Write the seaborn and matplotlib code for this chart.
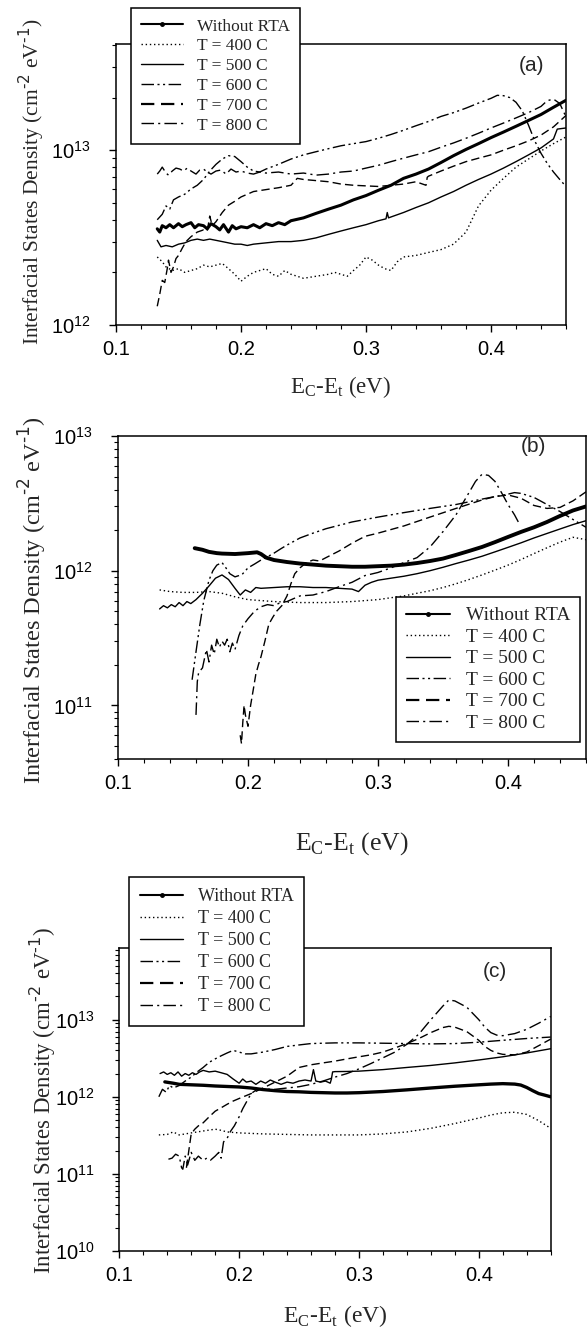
import numpy as np
import matplotlib
matplotlib.use("Agg")
import matplotlib.pyplot as plt
from matplotlib.lines import Line2D
from matplotlib.ticker import MultipleLocator, LogLocator, NullFormatter, FixedLocator
import seaborn as sns

# ---------------- DATA ----------------
series_names = ["Without RTA", "T = 400 C", "T = 500 C", "T = 600 C", "T = 700 C", "T = 800 C"]
xtick_values = [0.1, 0.2, 0.3, 0.4]

# Panel (a)  (y in units of 1e12 cm^-2 eV^-1)
a_norta_x = [0.133,0.135,0.137,0.14,0.143,0.146,0.15,0.153,0.156,0.16,0.163,0.166,0.17,0.173,0.176,0.18,0.183,0.186,0.19,0.193,0.196,0.2,0.205,0.21,0.215,0.22,0.225,0.23,0.235,0.24,0.25,0.26,0.27,0.28,0.29,0.3,0.31,0.32,0.33,0.34,0.35,0.36,0.37,0.38,0.39,0.4,0.41,0.42,0.43,0.44,0.45,0.46]
a_norta_y = [3.55,3.4,3.7,3.6,3.75,3.6,3.8,3.65,3.75,3.85,3.6,3.75,3.7,3.55,3.8,3.65,3.5,3.75,3.4,3.7,3.55,3.65,3.6,3.75,3.6,3.8,3.7,3.85,3.75,3.95,4.1,4.35,4.6,4.85,5.2,5.5,5.9,6.3,6.9,7.3,7.8,8.5,9.3,10.1,10.9,11.8,12.7,13.7,14.8,16.0,17.6,19.3]
a_400_x = [0.133,0.137,0.14,0.145,0.15,0.155,0.16,0.165,0.17,0.175,0.18,0.185,0.19,0.195,0.2,0.205,0.21,0.215,0.22,0.225,0.23,0.235,0.24,0.245,0.25,0.26,0.27,0.275,0.28,0.285,0.29,0.295,0.3,0.305,0.31,0.315,0.32,0.325,0.33,0.34,0.35,0.36,0.37,0.38,0.39,0.4,0.41,0.42,0.43,0.44,0.45,0.46]
a_400_y = [2.45,2.3,2.15,2.05,2.1,2.0,2.05,2.1,2.2,2.15,2.2,2.25,2.1,1.95,1.78,1.9,2.0,2.05,2.1,1.95,1.9,2.05,1.95,1.9,1.85,1.9,1.95,2.0,1.95,1.9,2.05,2.2,2.45,2.35,2.2,2.1,2.05,2.3,2.45,2.5,2.6,2.7,2.9,3.4,4.8,5.9,6.9,8.0,8.9,9.9,10.9,11.9]
a_500_x = [0.133,0.136,0.14,0.145,0.15,0.155,0.16,0.165,0.17,0.175,0.18,0.185,0.19,0.195,0.2,0.205,0.21,0.22,0.23,0.24,0.25,0.26,0.27,0.28,0.29,0.3,0.31,0.316,0.317,0.318,0.32,0.33,0.34,0.35,0.36,0.37,0.38,0.39,0.4,0.41,0.42,0.43,0.44,0.45,0.453,0.46]
a_500_y = [3.05,2.8,2.85,2.8,2.9,2.95,3.05,3.1,3.05,3.1,3.05,3.0,2.95,2.9,2.9,2.85,2.9,2.95,3.0,3.0,3.05,3.15,3.3,3.45,3.6,3.75,3.95,4.05,4.4,4.1,4.15,4.4,4.7,5.0,5.4,5.8,6.3,6.8,7.3,7.9,8.6,9.4,10.3,11.6,13.2,13.4]
a_600_x = [0.133,0.137,0.14,0.143,0.146,0.15,0.155,0.16,0.165,0.17,0.175,0.18,0.185,0.19,0.195,0.2,0.205,0.21,0.215,0.22,0.23,0.24,0.25,0.26,0.27,0.28,0.29,0.3,0.31,0.32,0.33,0.34,0.35,0.36,0.37,0.38,0.39,0.4,0.405,0.41,0.415,0.42,0.425,0.43,0.435,0.44,0.445,0.45,0.455,0.46]
a_600_y = [4.0,4.3,4.8,4.6,5.2,5.4,5.6,6.0,6.3,6.8,7.6,8.3,8.9,9.3,9.2,8.6,8.0,7.6,7.5,7.8,8.3,8.9,9.4,9.8,10.2,10.6,10.9,11.2,11.7,12.3,13.0,13.8,14.6,15.6,16.4,17.4,18.6,19.8,20.6,20.5,20.0,18.8,16.8,13.9,11.3,9.6,8.4,7.5,6.8,6.2]
a_700_x = [0.133,0.135,0.137,0.139,0.141,0.142,0.144,0.146,0.148,0.15,0.153,0.156,0.16,0.165,0.17,0.173,0.175,0.177,0.18,0.185,0.19,0.195,0.2,0.21,0.22,0.23,0.24,0.245,0.25,0.26,0.27,0.28,0.29,0.3,0.31,0.32,0.33,0.34,0.348,0.349,0.35,0.36,0.37,0.38,0.39,0.4,0.41,0.42,0.43,0.44,0.45,0.46]
a_700_y = [1.28,1.5,1.8,1.75,2.1,2.35,2.0,2.15,2.4,2.5,2.75,3.0,3.2,3.4,3.5,3.45,4.2,3.7,3.9,4.4,4.85,5.1,5.4,5.8,5.95,6.1,6.3,6.9,6.8,6.7,6.6,6.4,6.3,6.25,6.2,6.3,6.4,6.6,6.3,7.0,7.1,7.6,8.1,8.6,9.0,9.4,10.0,10.6,11.3,12.2,13.6,15.8]
a_800_x = [0.133,0.135,0.137,0.14,0.142,0.145,0.148,0.151,0.154,0.157,0.16,0.164,0.167,0.17,0.173,0.176,0.18,0.184,0.188,0.192,0.196,0.2,0.205,0.21,0.215,0.22,0.23,0.24,0.25,0.26,0.27,0.28,0.29,0.3,0.31,0.32,0.33,0.34,0.35,0.36,0.37,0.38,0.39,0.4,0.41,0.42,0.43,0.44,0.445,0.45,0.455,0.46]
a_800_y = [7.3,7.6,8.0,7.4,7.2,7.6,7.9,7.8,7.6,7.9,7.6,7.3,7.7,7.8,7.5,7.3,7.6,7.7,7.3,7.8,7.5,7.6,7.4,7.3,7.5,7.4,7.5,7.3,7.4,7.2,7.3,7.5,7.6,7.9,8.2,8.6,9.0,9.4,9.8,10.4,11.0,11.7,12.5,13.4,14.3,15.3,16.4,17.8,19.2,19.6,18.5,15.5]

# Panel (b)  (y in units of 1e12)
b_norta_x = [0.159,0.165,0.17,0.176,0.18,0.19,0.2,0.207,0.21,0.214,0.22,0.23,0.24,0.25,0.26,0.27,0.28,0.29,0.3,0.31,0.32,0.33,0.34,0.35,0.36,0.37,0.38,0.39,0.4,0.41,0.42,0.43,0.44,0.45,0.46]
b_norta_y = [1.47,1.43,1.38,1.35,1.34,1.33,1.35,1.37,1.33,1.25,1.2,1.16,1.13,1.11,1.09,1.08,1.07,1.07,1.08,1.09,1.11,1.14,1.18,1.23,1.31,1.40,1.50,1.63,1.78,1.94,2.1,2.3,2.55,2.8,3.0]
b_400_x = [0.132,0.14,0.15,0.16,0.17,0.18,0.19,0.2,0.21,0.22,0.23,0.24,0.25,0.26,0.27,0.28,0.29,0.3,0.31,0.32,0.33,0.34,0.35,0.36,0.37,0.38,0.39,0.4,0.41,0.42,0.43,0.44,0.45,0.46]
b_400_y = [0.72,0.70,0.69,0.69,0.70,0.68,0.64,0.61,0.60,0.59,0.585,0.58,0.58,0.58,0.585,0.59,0.60,0.61,0.63,0.65,0.68,0.71,0.75,0.80,0.86,0.93,1.01,1.10,1.21,1.34,1.48,1.63,1.77,1.70]
b_500_x = [0.132,0.135,0.138,0.141,0.144,0.147,0.15,0.153,0.156,0.16,0.165,0.17,0.175,0.18,0.185,0.19,0.194,0.198,0.202,0.206,0.21,0.22,0.23,0.24,0.25,0.26,0.27,0.28,0.285,0.29,0.295,0.3,0.31,0.32,0.33,0.34,0.35,0.36,0.37,0.38,0.39,0.4,0.41,0.42,0.43,0.44,0.45,0.46]
b_500_y = [0.52,0.55,0.53,0.56,0.54,0.58,0.55,0.59,0.57,0.61,0.68,0.77,0.88,0.93,0.86,0.74,0.66,0.72,0.69,0.75,0.74,0.75,0.76,0.76,0.75,0.75,0.74,0.73,0.70,0.78,0.82,0.85,0.88,0.91,0.95,1.00,1.06,1.13,1.20,1.28,1.38,1.49,1.61,1.75,1.89,2.04,2.20,2.35]
b_600_x = [0.157,0.16,0.163,0.166,0.17,0.173,0.176,0.18,0.183,0.186,0.19,0.193,0.196,0.2,0.205,0.21,0.215,0.22,0.225,0.23,0.24,0.25,0.26,0.28,0.3,0.32,0.34,0.36,0.38,0.39,0.4,0.405,0.41,0.42,0.43,0.44,0.45,0.46]
b_600_y = [0.155,0.25,0.4,0.6,0.85,1.0,1.1,1.15,1.05,0.95,0.9,0.92,0.95,1.05,1.12,1.2,1.27,1.35,1.45,1.55,1.75,1.9,2.05,2.3,2.5,2.7,2.9,3.1,3.4,3.55,3.7,3.8,3.75,3.5,3.1,2.75,2.4,2.1]
b_700_x = [0.194,0.195,0.196,0.197,0.198,0.2,0.202,0.204,0.206,0.208,0.21,0.213,0.216,0.219,0.222,0.226,0.23,0.233,0.236,0.24,0.245,0.25,0.255,0.26,0.27,0.28,0.29,0.3,0.32,0.34,0.36,0.38,0.39,0.4,0.41,0.42,0.43,0.44,0.45,0.46]
b_700_y = [0.06,0.052,0.075,0.1,0.085,0.07,0.1,0.13,0.17,0.2,0.23,0.3,0.4,0.45,0.5,0.55,0.65,0.8,0.95,1.05,1.15,1.2,1.18,1.25,1.4,1.6,1.8,1.9,2.15,2.5,2.9,3.35,3.55,3.65,3.45,3.05,2.9,2.95,3.3,3.85]
b_800_x = [0.16,0.161,0.162,0.165,0.168,0.17,0.172,0.174,0.176,0.178,0.18,0.182,0.184,0.186,0.188,0.19,0.193,0.196,0.2,0.205,0.21,0.215,0.22,0.225,0.23,0.235,0.24,0.25,0.26,0.27,0.28,0.29,0.3,0.31,0.32,0.33,0.34,0.35,0.36,0.37,0.375,0.38,0.385,0.39,0.395,0.4,0.405,0.409]
b_800_y = [0.085,0.15,0.175,0.19,0.26,0.21,0.28,0.24,0.31,0.27,0.30,0.28,0.31,0.25,0.29,0.26,0.33,0.39,0.44,0.50,0.54,0.56,0.55,0.58,0.59,0.62,0.65,0.66,0.70,0.76,0.82,0.92,0.97,1.05,1.15,1.25,1.5,1.95,2.6,3.8,4.6,5.2,5.1,4.6,3.8,3.1,2.6,2.2]

# Panel (c)  (y in units of 1e12)
c_norta_x = [0.138,0.145,0.15,0.16,0.17,0.18,0.19,0.2,0.21,0.22,0.23,0.24,0.25,0.26,0.27,0.28,0.29,0.3,0.32,0.34,0.36,0.38,0.4,0.41,0.42,0.43,0.435,0.44,0.445,0.45,0.455,0.46]
c_norta_y = [1.56,1.5,1.45,1.43,1.41,1.38,1.36,1.34,1.3,1.24,1.2,1.17,1.16,1.14,1.13,1.12,1.12,1.13,1.17,1.23,1.3,1.37,1.43,1.46,1.48,1.46,1.42,1.32,1.2,1.1,1.05,1.0]
c_400_x = [0.133,0.14,0.145,0.15,0.16,0.17,0.18,0.184,0.19,0.2,0.22,0.24,0.26,0.28,0.3,0.32,0.34,0.36,0.38,0.4,0.41,0.42,0.43,0.44,0.45,0.46]
c_400_y = [0.32,0.325,0.35,0.32,0.34,0.36,0.38,0.37,0.35,0.34,0.33,0.325,0.32,0.32,0.32,0.33,0.35,0.39,0.45,0.53,0.58,0.62,0.63,0.59,0.49,0.39]
c_500_x = [0.134,0.137,0.14,0.143,0.146,0.149,0.152,0.155,0.158,0.161,0.164,0.167,0.17,0.175,0.18,0.185,0.19,0.195,0.2,0.203,0.206,0.21,0.214,0.218,0.222,0.226,0.23,0.235,0.24,0.245,0.25,0.255,0.26,0.262,0.264,0.268,0.272,0.276,0.277,0.278,0.28,0.29,0.3,0.32,0.34,0.36,0.38,0.4,0.42,0.44,0.46]
c_500_y = [2.0,2.1,1.95,2.05,1.9,2.1,1.85,2.0,1.9,2.05,1.95,2.1,2.2,2.1,2.15,2.05,1.95,1.7,1.5,1.7,1.55,1.6,1.45,1.6,1.5,1.65,1.55,1.45,1.55,1.5,1.6,1.65,1.6,2.25,1.6,1.55,1.6,1.5,1.7,2.1,2.12,2.13,2.15,2.25,2.4,2.55,2.75,3.0,3.3,3.7,4.2]
c_600_x = [0.133,0.136,0.139,0.142,0.145,0.15,0.155,0.16,0.165,0.17,0.175,0.18,0.185,0.19,0.195,0.2,0.205,0.21,0.22,0.23,0.24,0.25,0.26,0.28,0.3,0.32,0.34,0.36,0.38,0.4,0.42,0.44,0.46]
c_600_y = [1.0,1.25,1.15,1.4,1.3,1.4,1.6,1.8,2.1,2.4,2.8,3.1,3.4,3.7,4.0,3.8,3.6,3.6,3.8,4.1,4.5,4.7,4.9,5.0,5.0,4.95,4.9,4.85,4.9,5.1,5.4,5.7,5.95]
c_700_x = [0.156,0.158,0.16,0.163,0.166,0.17,0.175,0.18,0.185,0.19,0.195,0.2,0.21,0.22,0.23,0.24,0.25,0.26,0.27,0.28,0.29,0.3,0.31,0.32,0.33,0.34,0.35,0.36,0.37,0.375,0.38,0.39,0.4,0.405,0.41,0.415,0.42,0.43,0.44,0.45,0.46]
c_700_y = [0.12,0.2,0.33,0.38,0.42,0.46,0.55,0.65,0.72,0.8,0.88,0.95,1.1,1.3,1.55,1.85,2.4,2.6,2.75,2.9,3.1,3.3,3.5,3.8,4.3,4.9,5.7,6.8,7.9,8.2,8.0,7.0,5.4,4.5,4.0,3.7,3.55,3.5,3.8,4.6,5.6]
c_800_x = [0.141,0.144,0.147,0.15,0.152,0.153,0.155,0.157,0.16,0.163,0.166,0.17,0.173,0.176,0.18,0.183,0.185,0.187,0.19,0.193,0.196,0.2,0.203,0.206,0.21,0.215,0.22,0.23,0.24,0.25,0.26,0.27,0.28,0.29,0.3,0.31,0.32,0.33,0.34,0.35,0.36,0.37,0.375,0.38,0.39,0.4,0.405,0.41,0.415,0.42,0.43,0.44,0.45,0.46]
c_800_y = [0.155,0.16,0.18,0.17,0.12,0.115,0.17,0.13,0.19,0.15,0.17,0.15,0.16,0.15,0.17,0.19,0.16,0.26,0.29,0.36,0.42,0.55,0.70,0.85,1.1,1.25,1.25,1.25,1.3,1.35,1.45,1.6,1.8,2.0,2.3,2.7,3.2,3.8,4.8,6.5,10.0,15.0,18.0,17.5,14.5,10.0,8.0,6.8,6.3,6.2,6.6,7.5,9.0,11.0]

UNIT = 1e12

# ---------------- STYLE ----------------
sns.set_theme(style="ticks")
plt.rcParams["font.family"] = ["Liberation Sans", "DejaVu Sans"]
plt.rcParams["axes.linewidth"] = 1.1
plt.rcParams["axes.edgecolor"] = "black"
plt.rcParams["xtick.color"] = "black"
plt.rcParams["ytick.color"] = "black"
plt.rcParams["xtick.direction"] = "out"
plt.rcParams["ytick.direction"] = "out"

SERIF = "Liberation Serif"
line_styles = {
    "Without RTA": dict(linestyle="-", lw=2.2),
    "T = 400 C": dict(linestyle=(0, (1, 2)), lw=1.0),
    "T = 500 C": dict(linestyle="-", lw=1.0),
    "T = 600 C": dict(linestyle=(0, (9, 2.5, 1.5, 2.5, 1.5, 2.5)), lw=1.0),
    "T = 700 C": dict(linestyle=(0, (6, 3)), lw=1.0),
    "T = 800 C": dict(linestyle=(0, (9, 3, 1.5, 3)), lw=1.0),
}

YLABEL = "Interfacial States Density (cm$^{\\text{-2}}$ eV$^{\\text{-1}}$)"
XLABEL = "E$_{\\mathregular{C}}$-E$_{\\mathregular{t}}$ (eV)"

fig = plt.figure(figsize=(5.87, 13.3), dpi=100)

panels = [
    dict(rect=[116/587, 1-325/1330, 450/587, 281/1330], ylim=(1e12, 4.05e13), tag="(a)", tagpos=(0.924, 0.925),
         data=[(a_norta_x, a_norta_y), (a_400_x, a_400_y), (a_500_x, a_500_y), (a_600_x, a_600_y), (a_700_x, a_700_y), (a_800_x, a_800_y)],
         thick=2.2, ylab_fs=15.5, xlab_fs=16.5, ylab_pos=(-0.187, 0.51), xlab_pos=(0.5, -0.22),
         leg_anchor=(131/587, 1-8/1330), leg_fs=12.5, leg_hl=2.4, leg_ls=0.21, leg_bp=0.6),
    dict(rect=[118/587, 1-759/1330, 468/587, 323/1330], ylim=(4e10, 1e13), tag="(b)", tagpos=(0.887, 0.966),
         data=[(b_norta_x, b_norta_y), (b_400_x, b_400_y), (b_500_x, b_500_y), (b_600_x, b_600_y), (b_700_x, b_700_y), (b_800_x, b_800_y)],
         thick=2.8, ylab_fs=17.5, xlab_fs=18.5, ylab_pos=(-0.182, 0.492), xlab_pos=(0.5, -0.262),
         leg_anchor=(396/587, 1-597/1330), leg_fs=14.0, leg_hl=2.3, leg_ls=0.2, leg_bp=0.5),
    dict(rect=[119.3/587, 1-1251/1330, 431.4/587, 303/1330], ylim=(1e10, 8.5e13), tag="(c)", tagpos=(0.871, 0.921),
         data=[(c_norta_x, c_norta_y), (c_400_x, c_400_y), (c_500_x, c_500_y), (c_600_x, c_600_y), (c_700_x, c_700_y), (c_800_x, c_800_y)],
         thick=2.4, ylab_fs=16.5, xlab_fs=17, ylab_pos=(-0.177, 0.498), xlab_pos=(0.5, -0.215),
         leg_anchor=(129/587, 1-877/1330), leg_fs=13.0, leg_hl=2.4, leg_ls=0.28, leg_bp=0.6),
]

for p in panels:
    ax = fig.add_axes(p["rect"])
    ax.set_yscale("log")
    for name, (xs, ys) in zip(series_names, p["data"]):
        st = dict(line_styles[name])
        if name == "Without RTA":
            st["lw"] = p["thick"]
        sns.lineplot(x=np.array(xs), y=np.array(ys) * UNIT, ax=ax, color="black",
                     linewidth=st["lw"], linestyle=st["linestyle"],
                     estimator=None, sort=False, legend=False)
    ax.set_xlim(0.1, 0.46)
    ax.set_ylim(*p["ylim"])
    ax.xaxis.set_major_locator(FixedLocator(xtick_values))
    ax.xaxis.set_minor_locator(MultipleLocator(0.02))
    ax.yaxis.set_major_locator(LogLocator(base=10, numticks=20))
    ax.yaxis.set_minor_locator(LogLocator(base=10, subs=np.arange(2, 10), numticks=50))
    ax.yaxis.set_minor_formatter(NullFormatter())
    ax.set_xticklabels([f"{v:.1f}" for v in xtick_values])
    ax.tick_params(which="major", length=5, width=1.0, labelsize=14.5, pad=6)
    ax.tick_params(which="minor", length=3, width=0.8)
    ax.tick_params(axis="y", which="major", pad=13)
    for sp in ax.spines.values():
        sp.set_visible(True)
        sp.set_color("black")
        sp.set_linewidth(1.1)
    ax.set_ylabel(YLABEL, fontfamily=SERIF, fontsize=p["ylab_fs"], va="center", ha="center")
    ax.yaxis.set_label_coords(*p["ylab_pos"])
    ax.set_xlabel(XLABEL, fontfamily=SERIF, fontsize=p["xlab_fs"], va="center", ha="center")
    ax.xaxis.set_label_coords(*p["xlab_pos"])
    ax.text(p["tagpos"][0], p["tagpos"][1], p["tag"], transform=ax.transAxes, fontsize=15,
            ha="center", va="center")
    handles = []
    for name in series_names:
        st = line_styles[name]
        if name == "Without RTA":
            handles.append(Line2D([], [], color="black", lw=1.5, linestyle="-", marker="o", markersize=2.5))
        else:
            handles.append(Line2D([], [], color="black", lw=st["lw"] if name != "T = 700 C" else 1.6,
                                  linestyle=st["linestyle"]))
    leg = ax.legend(handles, series_names, loc="upper left", bbox_to_anchor=p["leg_anchor"],
                    bbox_transform=fig.transFigure, borderaxespad=0, frameon=True, fancybox=False,
                    framealpha=1, edgecolor="black", prop={"family": SERIF, "size": p["leg_fs"]},
                    handlelength=p["leg_hl"], labelspacing=p["leg_ls"], handletextpad=0.8,
                    borderpad=p["leg_bp"], numpoints=1)
    leg.get_frame().set_linewidth(1.1)
    leg.set_zorder(10)

fig.savefig("out.png", dpi=100, facecolor="white")
